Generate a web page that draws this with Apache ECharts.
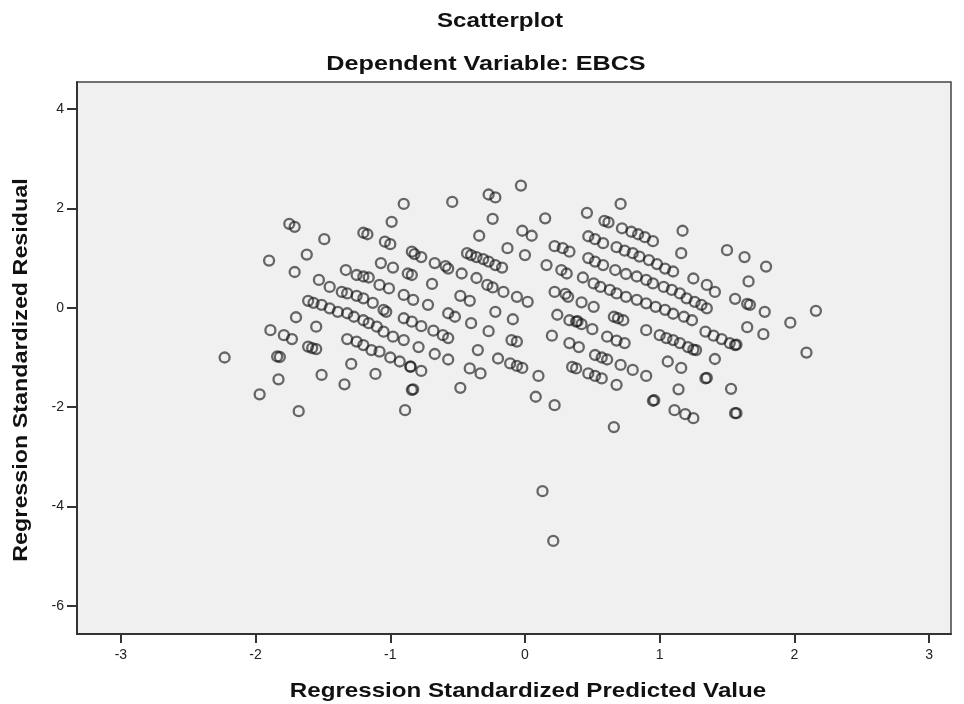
<!DOCTYPE html>
<html>
<head>
<meta charset="utf-8">
<script src="https://cdn.jsdelivr.net/npm/echarts@6/dist/echarts.min.js"></script>
<style>
html,body{margin:0;padding:0;background:#fff;}
#chart{width:964px;height:704px;}
</style>
</head>
<body>
<div id="chart"></div>
<script>
// Regression standardized predicted values (x)
const predicted = [
-1.75,-1.71,-1.49,-1.90,-1.62,-1.71,-1.33,-1.20,-1.17,-1.07,-1.53,-1.25,-1.20,-1.16,
-1.45,-1.36,-1.32,-1.25,-1.20,-1.13,
-1.61,-1.57,-1.51,-1.45,-1.39,-1.32,-1.27,-1.20,-1.16,-1.10,
-1.70,-1.55,-1.89,-1.79,-1.73,-1.32,-1.25,-1.20,-1.14,-1.61,-1.58,-1.55,
-2.23,-1.84,-1.82,-1.29,-1.83,-1.51,-1.34,-1.11,-1.97,-1.68,
-0.03,-0.90,-0.54,-0.27,-0.22,-0.24,0.15,-0.99,-0.34,-0.02,0.05,-1.04,-1.00,-0.13,0.00,0.22,
-0.84,-0.82,-0.77,-0.43,-0.40,-0.36,-0.31,-0.27,-0.22,-0.17,-0.67,-0.59,-0.57,-0.98,-0.47,-0.36,0.16,-0.87,-0.84,
-0.69,-1.08,-1.01,-0.90,-0.83,-0.28,-0.24,-0.16,-0.06,0.02,0.22,-0.48,-0.41,-0.72,-0.22,-0.09,0.24,
-1.05,-1.03,-0.90,-0.84,-0.77,-0.68,-0.61,-0.57,-0.57,-0.52,-0.40,-0.27,-0.10,-0.06,0.20,
-1.05,-0.98,-0.90,-0.79,-0.35,-1.08,-1.00,-0.93,-0.85,-0.77,-0.67,-0.57,-0.20,-0.11,-0.06,-0.02,
-0.41,-0.33,0.10,-0.84,-0.48,0.08,-0.89,0.22,
0.71,0.46,0.59,0.62,1.17,0.72,0.79,0.84,0.89,0.95,0.47,0.52,0.58,0.28,0.33,1.16,
0.68,0.74,0.80,0.85,0.92,0.98,1.04,1.10,0.47,0.52,0.58,0.27,0.31,0.67,0.75,0.83,1.25,0.43,
0.51,0.56,0.63,0.68,0.75,0.83,0.90,0.97,1.04,1.10,1.18,1.24,
0.90,0.95,1.03,1.09,1.15,1.20,1.26,1.31,1.35,1.35,1.41,
0.30,0.32,0.42,0.51,0.33,0.38,0.42,0.50,0.66,0.69,0.73,
0.90,1.00,1.05,1.10,1.15,1.21,1.27,0.61,0.68,0.74,0.33,0.40,0.52,0.57,0.61,1.06,1.16,
0.35,0.38,0.47,0.52,0.57,0.71,0.80,0.90,0.68,1.14,0.95,1.11,1.19,1.25,0.66,
1.50,1.63,1.79,1.66,1.56,1.65,1.67,1.78,2.16,1.97,1.65,1.77,
1.34,1.40,1.46,1.52,1.56,2.09,1.41,1.34,1.53,1.56,
0.13,0.21,
1.35,1.57,0.96,1.57,-0.83,0.39,-0.85,1.25
];
// Regression standardized residuals (y)
const residual = [
1.69,1.63,1.38,0.95,1.07,0.72,0.76,1.51,1.48,0.90,0.56,0.66,0.63,0.61,
0.42,0.32,0.29,0.24,0.19,0.10,
0.14,0.10,0.06,-0.01,-0.08,-0.11,-0.18,-0.25,-0.31,-0.38,
-0.19,-0.38,-0.45,-0.55,-0.63,-0.63,-0.68,-0.75,-0.85,-0.78,-0.81,-0.83,
-1.00,-0.98,-0.99,-1.13,-1.44,-1.35,-1.54,-1.33,-1.74,-2.08,
2.46,2.09,2.13,2.28,2.22,1.79,1.80,1.73,1.45,1.55,1.45,1.33,1.28,1.20,1.06,1.24,
1.13,1.08,1.02,1.10,1.06,1.02,0.98,0.93,0.86,0.81,0.90,0.84,0.79,0.81,0.69,0.60,0.86,0.69,0.66,
0.48,0.46,0.39,0.26,0.16,0.46,0.41,0.32,0.22,0.12,0.32,0.24,0.14,0.06,-0.08,-0.23,-0.14,
-0.04,-0.08,-0.21,-0.28,-0.37,-0.46,-0.55,-0.61,-0.11,-0.18,-0.31,-0.47,-0.65,-0.68,-0.56,
-0.48,-0.58,-0.65,-0.79,-0.85,-0.88,-1.00,-1.08,-1.19,-1.27,-0.93,-1.04,-1.02,-1.12,-1.17,-1.21,
-1.22,-1.32,-1.37,-1.65,-1.61,-1.79,-2.06,-1.96,
2.09,1.91,1.75,1.72,1.55,1.60,1.53,1.48,1.42,1.34,1.44,1.38,1.30,1.20,1.13,1.10,
1.22,1.15,1.10,1.03,0.96,0.88,0.79,0.73,1.00,0.93,0.86,0.76,0.69,0.76,0.68,0.63,0.59,0.61,
0.49,0.42,0.36,0.29,0.22,0.16,0.09,0.02,-0.04,-0.12,-0.18,-0.25,
0.56,0.49,0.42,0.36,0.29,0.19,0.12,0.06,-0.01,0.46,0.32,
0.28,0.22,0.11,0.02,-0.25,-0.28,-0.33,-0.43,-0.18,-0.21,-0.25,
-0.45,-0.55,-0.61,-0.65,-0.71,-0.79,-0.85,-0.58,-0.66,-0.71,-0.71,-0.79,-0.95,-1.00,-1.04,-1.08,-1.21,
-1.19,-1.22,-1.32,-1.37,-1.42,-1.15,-1.25,-1.37,-1.55,-1.64,-1.87,-2.06,-2.14,-2.22,-2.40,
1.16,1.02,0.83,0.53,0.18,0.08,0.06,-0.08,-0.06,-0.30,-0.39,-0.53,
-0.48,-0.56,-0.63,-0.71,-0.75,-0.90,-1.03,-1.42,-1.63,-2.12,
-3.69,-4.69,
-1.41,-2.12,-1.86,-0.74,-1.64,-0.27,-1.18,-0.84
];
const xTicks = [-3,-2,-1,0,1,2,3];
const yTicks = [-6,-4,-2,0,2,4];
const titleText = 'Scatterplot';
const subtitleText = 'Dependent Variable: EBCS';
const xName = 'Regression Standardized Predicted Value';
const yName = 'Regression Standardized Residual';

const points = predicted.map((v, i) => [v, residual[i]]);

const chart = echarts.init(document.getElementById('chart'), null, {renderer: 'canvas'});
const fontFam = '"Liberation Sans", Arial, sans-serif';
const titleFont = 'bold 21px ' + fontFam;
chart.setOption({
  animation: false,
  backgroundColor: '#ffffff',
  grid: {
    left: 77, top: 82, width: 874, height: 552,
    show: true, backgroundColor: '#f0f0f0', borderColor: '#444', borderWidth: 1.5
  },
  xAxis: {
    type: 'value', min: -3.326, max: 3.163,
    axisLine: {show: true, onZero: false, lineStyle: {color: '#333', width: 2}},
    axisTick: {show: true, length: 9, lineStyle: {color: '#333', width: 2}, customValues: xTicks},
    axisLabel: {customValues: xTicks, fontSize: 14, color: '#222', margin: 14, fontFamily: fontFam},
    splitLine: {show: false}
  },
  yAxis: {
    type: 'value', min: -6.563, max: 4.543,
    axisLine: {show: true, onZero: false, lineStyle: {color: '#333', width: 2}},
    axisTick: {show: true, length: 10, lineStyle: {color: '#333', width: 2}, customValues: yTicks},
    axisLabel: {customValues: yTicks, fontSize: 14, color: '#222', margin: 13, fontFamily: fontFam},
    splitLine: {show: false}
  },
  graphic: [
    {type: 'text', x: 500, y: 21, scaleX: 1.15, style: {text: titleText, font: titleFont, fill: '#111', align: 'center', verticalAlign: 'middle'}},
    {type: 'text', x: 486, y: 64, scaleX: 1.2, style: {text: subtitleText, font: titleFont, fill: '#111', align: 'center', verticalAlign: 'middle'}},
    {type: 'text', x: 528, y: 691, scaleX: 1.15, style: {text: xName, font: titleFont, fill: '#111', align: 'center', verticalAlign: 'middle'}},
    {type: 'text', x: 21, y: 370, rotation: Math.PI / 2, scaleX: 1.11, style: {text: yName, font: titleFont, fill: '#111', align: 'center', verticalAlign: 'middle'}}
  ],
  series: [{
    type: 'scatter',
    data: points,
    symbol: 'circle',
    symbolSize: 10,
    itemStyle: {color: 'rgba(0,0,0,0)', borderColor: 'rgba(20,20,20,0.78)', borderWidth: 2.3},
    emphasis: {disabled: true}
  }]
});
</script>
</body>
</html>
